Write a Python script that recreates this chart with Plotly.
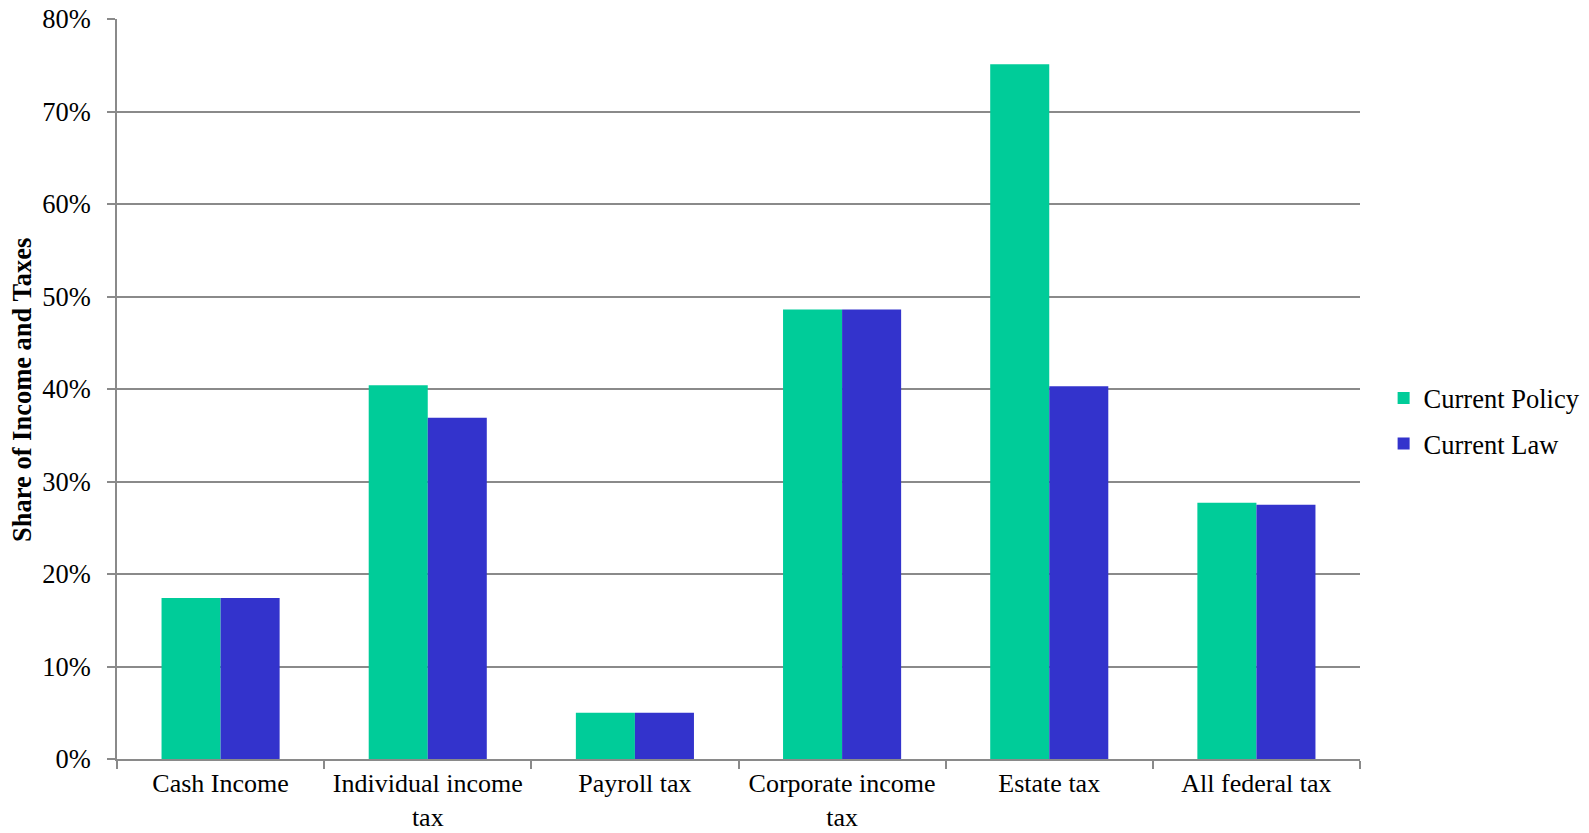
import plotly.graph_objects as go

# Categories and shares (fraction of total) for each baseline
categories = [
    "Cash Income",
    "Individual income<br>tax",
    "Payroll tax",
    "Corporate income<br>tax",
    "Estate tax",
    "All federal tax",
]
current_policy = [0.174, 0.404, 0.050, 0.486, 0.751, 0.277]
current_law = [0.174, 0.369, 0.050, 0.486, 0.403, 0.275]

FONT = "Liberation Serif, Times New Roman, serif"
GRID = "#8a8a8a"

fig = go.Figure()
fig.add_trace(go.Bar(
    name="Current Policy", x=categories, y=current_policy,
    marker=dict(color="#00CC99", line=dict(width=0)),
    legendgroup="a",
))
fig.add_trace(go.Bar(
    name="Current Law", x=categories, y=current_law,
    marker=dict(color="#3333CC", line=dict(width=0)),
    legendgroup="b",
))

W, H = 1589, 833
L, R, T, B = 117, 229, 19, 74

fig.update_layout(
    width=W, height=H,
    margin=dict(l=L, r=R, t=T, b=B, pad=0, autoexpand=False),
    paper_bgcolor="white", plot_bgcolor="white",
    font=dict(family=FONT, size=26.5, color="black"),
    barmode="group", bargap=0.43, bargroupgap=0,
    showlegend=True,
    legend=dict(
        x=1.019, xanchor="left", y=0.457, yanchor="middle",
        traceorder="grouped", tracegroupgap=8,
        font=dict(family=FONT, size=26.5, color="black"),
        bgcolor="rgba(0,0,0,0)",
    ),
    xaxis=dict(
        type="category", tickson="boundaries", automargin=False,
        ticks="outside", ticklen=8, tickwidth=1.5, tickcolor=GRID,
        showline=True, linecolor=GRID, linewidth=1.5,
        showgrid=False,
        ticklabelstandoff=0,
        tickfont=dict(family=FONT, size=26),
    ),
    yaxis=dict(
        range=[0, 0.8], dtick=0.1, tickformat=".0%", automargin=False,
        ticks="outside", ticklen=8, tickwidth=1.5, tickcolor=GRID,
        showline=True, linecolor=GRID, linewidth=1.5,
        showgrid=True, gridcolor=GRID, gridwidth=1.5,
        zeroline=False,
        ticklabelstandoff=11,
        tickfont=dict(family=FONT, size=26.5),
    ),
    annotations=[dict(
        text="<b>Share of Income and Taxes</b>",
        xref="paper", yref="paper",
        x=(22 - L) / (W - L - R), y=(H - B - 390) / (H - T - B),
        xanchor="center", yanchor="middle",
        textangle=-90, showarrow=False,
        font=dict(family=FONT, size=26.5, color="black"),
    )],
)

fig.write_html("out.html")
